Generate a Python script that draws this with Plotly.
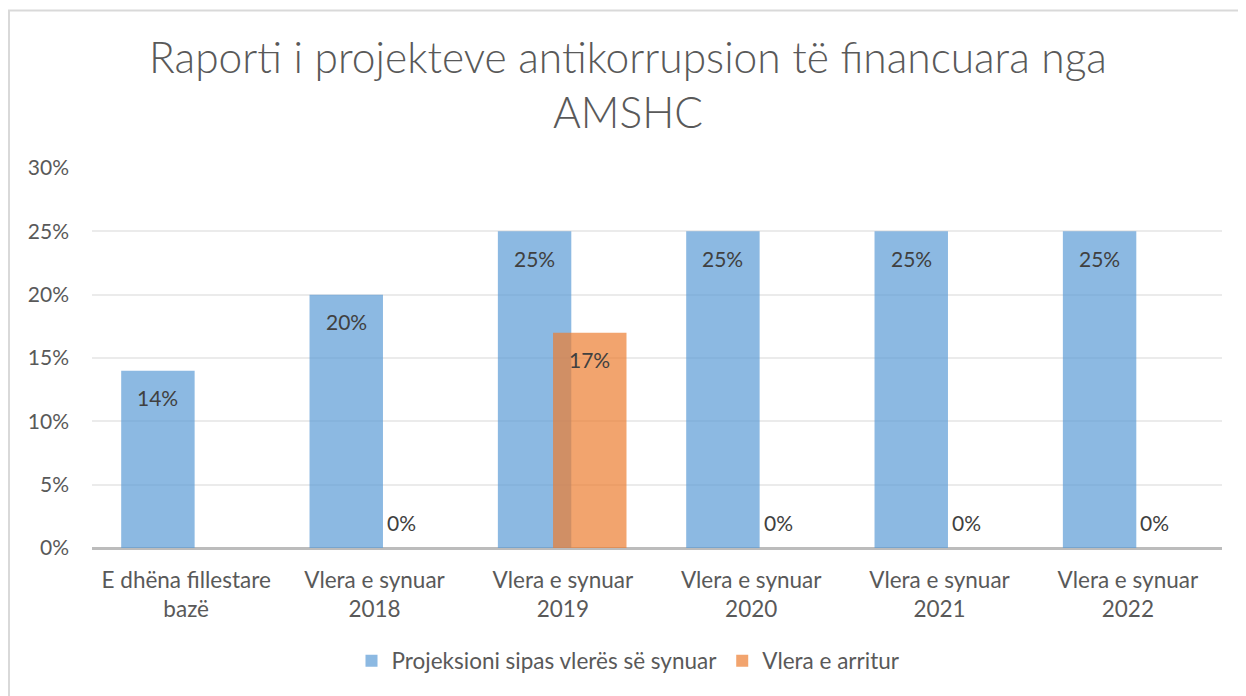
import plotly.graph_objects as go

categories = ["E dhëna fillestare<br>bazë", "Vlera e synuar<br>2018", "Vlera e synuar<br>2019",
              "Vlera e synuar<br>2020", "Vlera e synuar<br>2021", "Vlera e synuar<br>2022"]
projeksioni = [0.14, 0.20, 0.25, 0.25, 0.25, 0.25]
arritur = [None, 0.0, 0.17, 0.0, 0.0, 0.0]
series_names = ["Projeksioni sipas vlerës së synuar", "Vlera e arritur"]
y_ticks = [0, 0.05, 0.10, 0.15, 0.20, 0.25, 0.30]

# page body has an 8px margin: figure is drawn from (8, 8)
PAD = 8
W, H = 1246 - PAD, 696 - PAD
L, R, T, B = 84, 24, 160, 148
pw, ph = W - L - R, H - T - B
bottom = H - B  # y of zero line in figure px

FONT = "Lato"
TXT = "#595959"
bar_w = 0.39
offs = [-0.345, -0.052]
colors = ["rgba(91,155,213,0.7)", "rgba(237,125,49,0.7)"]

idx = list(range(len(categories)))
fig = go.Figure()
for name, vals, off, col in zip(series_names, [projeksioni, arritur], offs, colors):
    fig.add_trace(go.Bar(x=idx, y=vals, name=name, width=bar_w, offset=off,
                         marker=dict(color=col, line=dict(width=0))))

annotations = []
for vals, off in zip([projeksioni, arritur], offs):
    for i, v in zip(idx, vals):
        if v is None:
            continue
        annotations.append(dict(x=i + off + bar_w / 2, y=v, xref="x", yref="y",
                                text=f"{v:.0%}", showarrow=False,
                                yshift=(-27 if v > 0 else 26),
                                font=dict(family=FONT, size=21, color="#404040")))

fig.update_layout(
    width=W, height=H,
    margin=dict(l=L, r=R, t=T, b=B, autoexpand=False),
    paper_bgcolor="white", plot_bgcolor="white",
    barmode="overlay",
    title=dict(text="Raporti i projekteve antikorrupsion të financuara nga<br>AMSHC",
               x=(620 - L) / pw, xref="paper", xanchor="center",
               y=1 - 65 / H, yref="container", yanchor="middle",
               font=dict(family=FONT, size=42.5, color=TXT, weight=300)),
    xaxis=dict(range=[-0.5, 5.5], tickvals=idx, ticktext=categories, showgrid=False,
               zeroline=False, showline=False, ticks="", ticklabelstandoff=16,
               tickfont=dict(family=FONT, size=22.5, color=TXT)),
    yaxis=dict(range=[0, 0.30], tickvals=y_ticks, tickformat=".0%", showgrid=True,
               gridcolor="#EBEBEB", gridwidth=1.5, zeroline=True, zerolinecolor="#BCBCBC",
               zerolinewidth=2.5, showline=False, ticks="", ticklabelstandoff=22,
               tickfont=dict(family=FONT, size=21, color=TXT)),
    legend=dict(orientation="h", x=(620.5 - L) / pw, xanchor="center",
                y=(bottom - 653) / ph, yanchor="middle",
                font=dict(family=FONT, size=22.5, color=TXT), itemwidth=30,
                bgcolor="rgba(0,0,0,0)"),
    annotations=annotations,
    shapes=[
        dict(type="line", xref="paper", yref="paper", x0=(1 - L) / pw, x1=(1 - L) / pw,
             y0=(bottom - 2.5) / ph, y1=(bottom - 700) / ph, line=dict(color="#D9D9D9", width=2)),
        dict(type="line", xref="paper", yref="paper", x0=(0 - L) / pw, x1=(1250 - L) / pw,
             y0=(bottom - 2.5) / ph, y1=(bottom - 2.5) / ph, line=dict(color="#D9D9D9", width=2)),
    ],
)

fig.write_html("out.html")
